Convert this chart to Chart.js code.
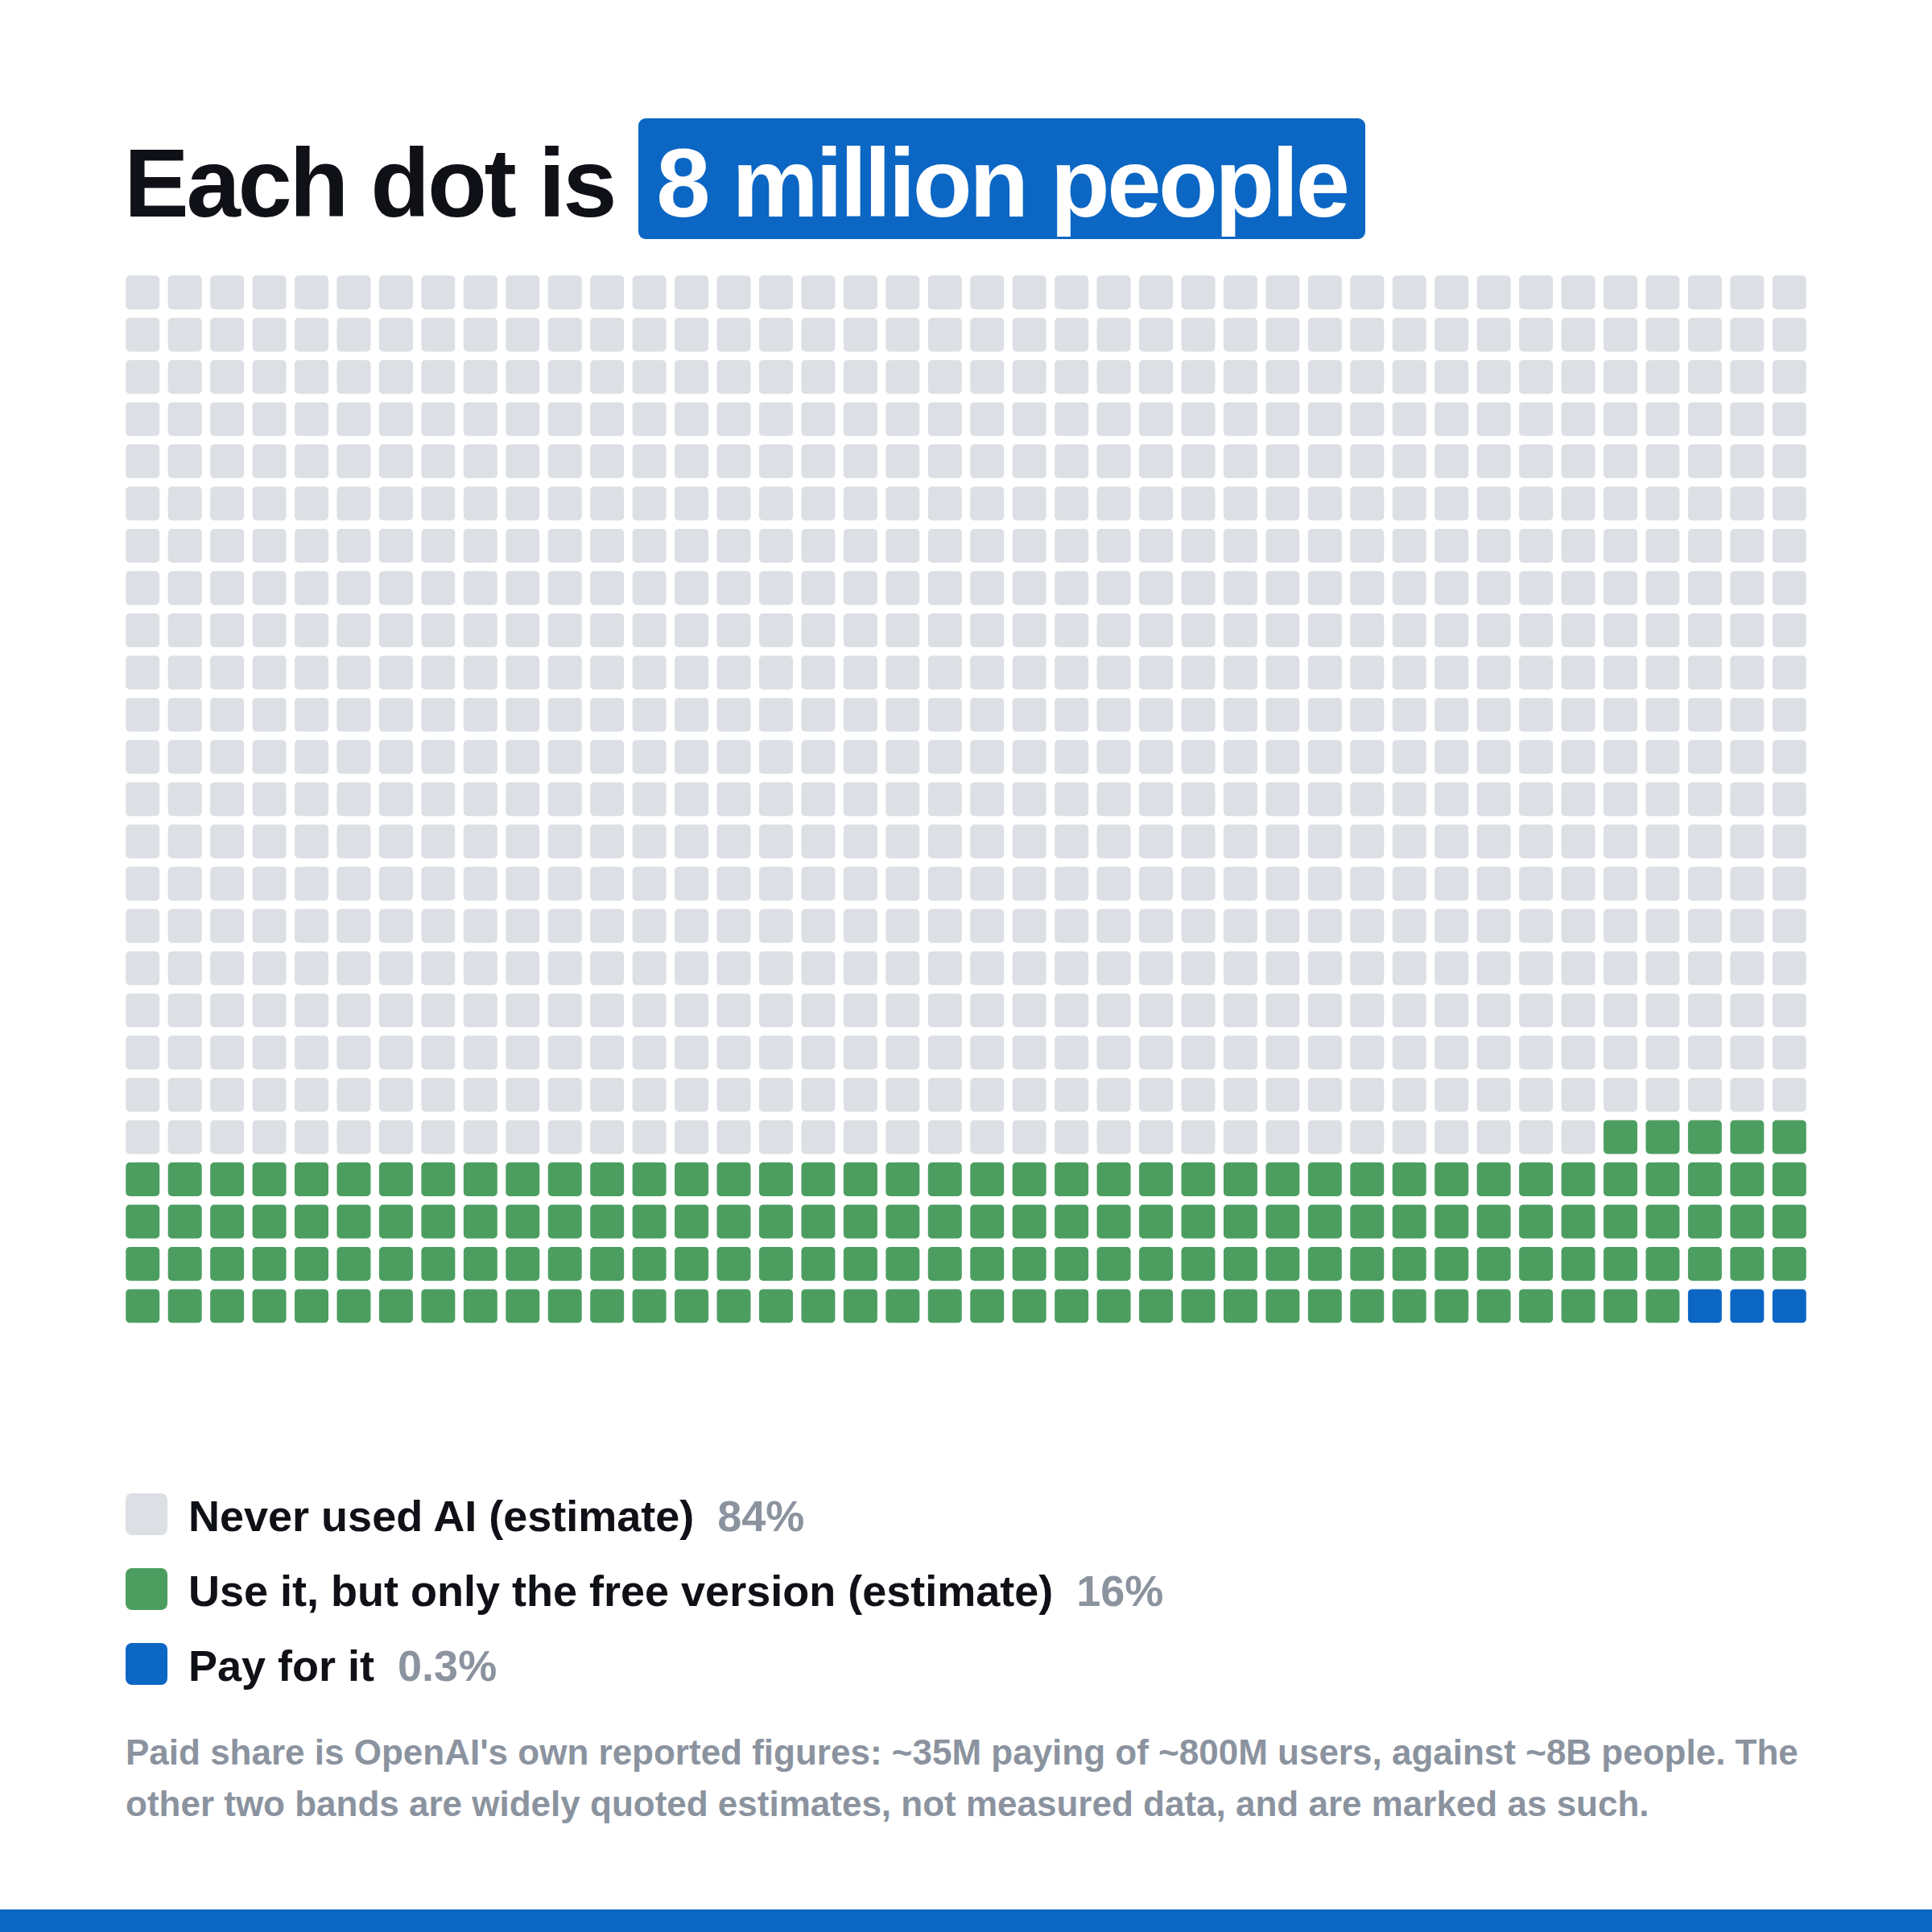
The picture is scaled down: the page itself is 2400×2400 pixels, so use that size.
<!DOCTYPE html>
<html>
<head>
<meta charset="utf-8">
<script src="https://cdn.jsdelivr.net/npm/chart.js@4.4.1/dist/chart.umd.min.js"></script>
<style>
  html, body { margin: 0; padding: 0; background: #ffffff; }
  #page { position: relative; width: 2400px; height: 2400px; overflow: hidden;
          font-family: "Liberation Sans", Arial, Helvetica, sans-serif; background: #fff; }
  #title { position: absolute; left: 154px; top: 151.5px; height: 150px; line-height: 150px;
           font-size: 121px; font-weight: 700; letter-spacing: -3.3px; color: #0f1117; white-space: nowrap; }
  #hl { position: absolute; left: 793px; top: 147px; width: 903px; height: 150px; background: #0c66c4;
        border-radius: 9px; text-align: center; }
  #hl span { display: block; position: relative; top: 4.5px; line-height: 150px; font-size: 121px; font-weight: 700;
             letter-spacing: -3.5px; color: #ffffff; white-space: nowrap; }
  #waffle { position: absolute; left: 151px; top: 336.7px; width: 2098px; height: 1311.6px; }
  .lg-row { position: absolute; left: 156px; height: 52px; white-space: nowrap; }
  .lg-sw { position: absolute; left: 0; top: 0; width: 52px; height: 52px; border-radius: 8px; }
  .lg-txt { position: absolute; left: 78px; top: 1.5px; line-height: 52px; font-size: 54px; font-weight: 700;
            color: #0f1117; }
  .lg-pct { color: #8b939f; margin-left: 29px; }
  #note { position: absolute; left: 156px; top: 2144.5px; width: 2200px; font-size: 44px; line-height: 64px;
          font-weight: 700; color: #8b939f; white-space: nowrap; }
  #bar { position: absolute; left: 0; top: 2372px; width: 2400px; height: 28px; background: #0c66c4; }
</style>
</head>
<body>
<div id="page">
  <div id="title">Each dot is</div>
  <div id="hl"><span>8 million people</span></div>
  <div id="waffle"><canvas id="chart"></canvas></div>
  <div id="legend"></div>
  <div id="note">Paid share is OpenAI's own reported figures: ~35M paying of ~800M users, against ~8B people. The<br>other two bands are widely quoted estimates, not measured data, and are marked as such.</div>
  <div id="bar"></div>
</div>
<script>
// ---- data ----
const categories = ['Never used AI (estimate)', 'Use it, but only the free version (estimate)', 'Pay for it'];
const dotCounts = [835, 162, 3];            // dots of 8 million people each (1000 dots = ~8B)
const shareLabels = ['84%', '16%', '0.3%'];
const categoryColors = ['#dcdfe4', '#4c9e60', '#0c66c4'];
const fillOrder = [2, 1, 0];                 // filled from the bottom-right corner
const COLS = 40;
const ROWS = 25;
const colLabels = Array.from({ length: COLS }, (_, i) => String(i + 1));

// category of the k-th dot counted from the bottom-right
function categoryOf(k) {
  let acc = 0;
  for (const ci of fillOrder) {
    acc += dotCounts[ci];
    if (k < acc) return ci;
  }
  return fillOrder[fillOrder.length - 1];
}

const datasets = [];
for (let rb = 0; rb < ROWS; rb++) {           // row counted from bottom
  const data = [];
  const bg = [];
  for (let c = 0; c < COLS; c++) {
    const k = rb * COLS + (COLS - 1 - c);
    data.push([rb + 0.1, rb + 0.9]);
    bg.push(categoryColors[categoryOf(k)]);
  }
  datasets.push({
    data: data,
    backgroundColor: bg,
    borderWidth: 0,
    borderRadius: 5,
    borderSkipped: false,
    grouped: false,
    barPercentage: 0.8,
    categoryPercentage: 1.0
  });
}

new Chart(document.getElementById('chart'), {
  type: 'bar',
  data: { labels: colLabels, datasets: datasets },
  options: {
    responsive: true,
    maintainAspectRatio: false,
    animation: false,
    layout: { padding: 0 },
    plugins: { legend: { display: false }, tooltip: { enabled: false }, title: { display: false } },
    scales: {
      x: { type: 'category', offset: true, display: false, grid: { display: false } },
      y: { type: 'linear', min: 0, max: ROWS, display: false, grid: { display: false } }
    }
  }
});

// ---- legend (HTML text) ----
const legend = document.getElementById('legend');
const legendTops = [1855, 1948, 2041];
categories.forEach((name, i) => {
  const row = document.createElement('div');
  row.className = 'lg-row';
  row.style.top = legendTops[i] + 'px';
  const sw = document.createElement('div');
  sw.className = 'lg-sw';
  sw.style.background = categoryColors[i];
  const txt = document.createElement('div');
  txt.className = 'lg-txt';
  txt.textContent = name;
  const pct = document.createElement('span');
  pct.className = 'lg-pct';
  pct.textContent = shareLabels[i];
  txt.appendChild(pct);
  row.appendChild(sw);
  row.appendChild(txt);
  legend.appendChild(row);
});
</script>
</body>
</html>
